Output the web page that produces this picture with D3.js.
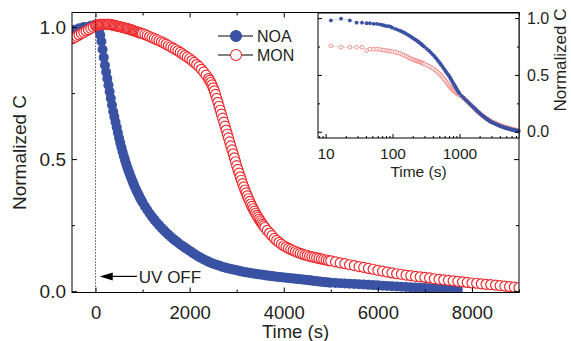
<!DOCTYPE html>
<html>
<head>
<meta charset="UTF-8" />
<title>Normalized C vs time</title>
<script src="https://cdn.jsdelivr.net/npm/d3@7/dist/d3.min.js"></script>
<style>
  body { margin: 0; background: #fff; }
  svg text { font-family: Arial, "Liberation Sans", sans-serif; fill: #231f20; }
</style>
</head>
<body>
<svg id="chart" width="571" height="341"></svg>
<script>
// main panel: time (s) after UV off
var noaTime = [-500,-450,-400,-350,-300,-250,-200,-150,-100,-50,0,
  25,50,75,100,125,150,175,200,225,250,275,300,325,350,375,400,425,450,475,500,
  525,550,575,600,625,650,675,700,725,750,775,800,825,850,875,900,925,950,975,1000,
  1050,1100,1150,1200,1250,1300,1350,1400,1450,1500,1550,1600,1650,1700,1750,1800,1850,1900,1950,2000,
  2050,2100,2150,2200,2250,2300,2350,2400,2450,2500,2550,2600,2650,2700,2750,2800,2850,2900,2950,3000,
  3050,3100,3150,3200,3250,3300,3350,3400,3450,3500,3550,3600,3650,3700,3750,3800,3850,3900,3950,4000,
  4050,4100,4150,4200,4250,4300,4350,4400,4450,4500,4550,4600,4650,4700,4750,4800,4850,4900,4950,5000,
  5100,5200,5300,5400,5500,5600,5700,5800,5900,6000,6100,6200,6300,6400,6500,6600,6700,6800,6900,7000,
  7100,7200,7300,7400,7500,7600,7700]

var noaMain = [0.98,0.99,0.985,0.995,0.99,1.0,0.995,1.0,1.005,1.0,1.01,
  1.005,1.0,0.99,0.97,0.945,0.915,0.885,0.855,0.83,0.805,0.78,0.755,0.73,0.705,0.68,0.66,0.64,0.62,0.6,0.58,
  0.562,0.545,0.528,0.512,0.497,0.483,0.469,0.456,0.444,0.432,0.421,0.41,0.399,0.389,0.379,0.37,0.361,0.352,0.344,0.336,
  0.321,0.307,0.294,0.282,0.271,0.26,0.25,0.24,0.231,0.222,0.214,0.206,0.198,0.191,0.184,0.177,0.171,0.165,0.159,0.153,
  0.147,0.141,0.135,0.13,0.125,0.12,0.116,0.112,0.108,0.104,0.101,0.098,0.095,0.092,0.09,0.087,0.085,0.083,0.081,0.079,
  0.077,0.075,0.073,0.072,0.07,0.069,0.067,0.066,0.064,0.063,0.062,0.06,0.059,0.058,0.057,0.056,0.055,0.054,0.053,0.052,
  0.051,0.05,0.049,0.048,0.047,0.046,0.045,0.044,0.043,0.042,0.041,0.04,0.039,0.038,0.037,0.036,0.035,0.034,0.033,0.032,
  0.031,0.03,0.029,0.028,0.027,0.026,0.025,0.024,0.023,0.022,0.021,0.02,0.019,0.018,0.017,0.016,0.015,0.014,0.013,0.012,
  0.011,0.01,0.009,0.008,0.007,0.006,0.005]

var monTime = [-500,-450,-400,-350,-300,-250,-200,-150,-100,-50,0,
  25,50,75,100,125,150,175,200,225,250,275,300,325,350,375,400,425,450,475,500,
  525,550,575,600,625,650,675,700,725,750,775,800,825,850,875,900,925,950,975,1000,
  1050,1100,1150,1200,1250,1300,1350,1400,1450,1500,1550,1600,1650,1700,1750,1800,1850,1900,1950,2000,
  2050,2100,2150,2200,2250,2300,2350,2400,
  2425,2450,2475,2500,2525,2550,2575,2600,2625,2650,2675,2700,2725,2750,2775,2800,2825,2850,2875,2900,
  2925,2950,2975,3000,3025,3050,3075,3100,3125,3150,3175,3200,3225,3250,3275,3300,3325,3350,3375,3400,
  3425,3450,3475,3500,3525,3550,3575,3600,
  3650,3700,3750,3800,3850,3900,3950,4000,4050,4100,4150,4200,4250,4300,4350,4400,4450,4500,4550,4600,
  4650,4700,4750,4800,4850,4900,4950,5000,
  5100,5200,5300,5400,5500,5600,5700,5800,5900,6000,6100,6200,6300,6400,6500,6600,6700,6800,6900,7000,
  7100,7200,7300,7400,7500,7600,7700,7800,7900,8000,8100,8200,8300,8400,8500,8600,8700,8800,8900,9000]

var monMain = [0.955,0.96,0.965,0.97,0.975,0.98,0.985,0.99,0.995,1.0,1.005,
  1.006,1.008,1.009,1.01,1.01,1.01,1.01,1.01,1.01,1.01,1.01,1.01,1.009,1.008,1.007,1.006,1.005,1.004,1.003,1.002,
  1.001,1.0,0.999,0.998,0.996,0.995,0.994,0.993,0.991,0.99,0.988,0.987,0.985,0.984,0.982,0.981,0.979,0.978,0.976,0.975,
  0.972,0.968,0.964,0.96,0.956,0.952,0.948,0.944,0.94,0.935,0.93,0.925,0.92,0.915,0.91,0.904,0.898,0.892,0.886,0.88,
  0.873,0.866,0.858,0.85,0.84,0.83,0.818,0.805,
  0.798,0.79,0.781,0.77,0.758,0.745,0.73,0.715,0.7,0.685,0.67,0.655,0.64,0.625,0.61,0.595,0.58,0.565,0.55,0.535,
  0.52,0.505,0.49,0.475,0.461,0.447,0.433,0.42,0.407,0.395,0.383,0.372,0.361,0.35,0.34,0.33,0.321,0.312,0.303,0.295,
  0.287,0.28,0.273,0.266,0.259,0.253,0.247,0.241,
  0.23,0.22,0.21,0.2,0.192,0.185,0.178,0.172,0.167,0.162,0.158,0.154,0.15,0.146,0.143,0.14,0.137,0.135,0.132,0.13,
  0.128,0.126,0.124,0.122,0.12,0.118,0.116,0.115,
  0.111,0.107,0.104,0.1,0.097,0.093,0.09,0.086,0.083,0.079,0.076,0.072,0.069,0.066,0.064,0.061,0.059,0.056,0.054,0.052,
  0.05,0.047,0.045,0.043,0.041,0.039,0.037,0.035,0.033,0.031,0.03,0.028,0.026,0.025,0.023,0.021,0.019,0.017,0.015,0.013]

// inset: log time
var insetTime = [12,17,23,29,35,41,46,52,58,64,70,75,81,87,93,99,
  110,120,130,140,150,160,170,180,190,200,210,220,230,240,250,260,270,280,290,300,
  325,350,375,400,425,450,475,500,525,550,575,600,625,650,675,700,725,750,775,800,825,850,875,900,925,950,975,1000,
  1080,1160,1240,1320,1400,1480,1560,1640,1720,1800,1880,1960,2040,2120,2200,2280,2360,2440,2520,2600,2680,2760,2840,2920,3000,
  3150,3300,3450,3600,3750,3900,4050,4200,4350,4500,4650,4800,4950,5100,5250,5400,5550,5700,5850,6000,
  6150,6300,6450,6600,6750,6900,7050,7200,7350,7500,7650]

var noaInset = [0.98,0.995,0.98,0.96,0.96,0.955,0.955,0.95,0.95,0.945,0.94,0.935,0.93,0.93,0.925,0.915,
  0.905,0.897,0.889,0.88,0.871,0.862,0.853,0.844,0.835,0.826,0.818,0.81,0.802,0.794,0.786,0.778,0.77,0.762,0.754,0.747,
  0.73,0.713,0.696,0.679,0.662,0.645,0.628,0.611,0.594,0.578,0.562,0.546,0.531,0.516,0.503,0.491,
  0.475,0.46,0.446,0.432,0.419,0.406,0.393,0.381,0.369,0.358,0.347,0.336,
  0.315,0.297,0.28,0.265,0.25,0.237,0.224,0.212,0.2,0.189,0.179,0.169,0.16,0.151,0.143,0.136,0.129,0.122,0.116,0.11,0.104,0.099,0.094,0.089,0.085,
  0.08,0.074,0.069,0.064,0.059,0.055,0.051,0.047,0.044,0.041,0.038,0.035,0.033,0.031,0.029,0.027,0.025,0.023,0.021,0.019,
  0.018,0.016,0.015,0.013,0.012,0.011,0.01,0.009,0.008,0.007,0.006]

var monInset = [0.756,0.744,0.744,0.744,0.744,0.714,0.727,0.727,0.727,0.725,0.72,0.718,0.714,0.712,0.71,0.706,
  0.7,0.695,0.688,0.679,0.672,0.665,0.658,0.648,0.642,0.636,0.631,0.627,0.623,0.62,0.617,0.613,0.608,0.604,0.6,0.596,
  0.586,0.577,0.567,0.557,0.546,0.535,0.523,0.511,0.498,0.485,0.471,0.457,0.443,0.43,0.417,0.405,
  0.394,0.384,0.375,0.366,0.36,0.354,0.347,0.34,0.336,0.332,0.328,0.324,
  0.31,0.295,0.28,0.265,0.25,0.236,0.222,0.209,0.196,0.184,0.174,0.165,0.156,0.148,0.141,0.134,0.128,0.122,0.117,0.112,0.107,0.102,0.097,0.093,0.089,
  0.084,0.079,0.074,0.069,0.064,0.06,0.056,0.052,0.049,0.046,0.043,0.04,0.037,0.035,0.033,0.031,0.029,0.027,0.025,0.023,
  0.021,0.02,0.018,0.017,0.015,0.014,0.013,0.012,0.011,0.01,0.009]

var xTickValues = [0, 2000, 4000, 6000, 8000]
var xMinorValues = [1000, 3000, 5000, 7000, 9000]
var yTickValues = [0, 0.5, 1.0]
var yMinorValues = [0.25, 0.75]
var insetXTicks = [10, 100, 1000]
var insetXMinor = [8, 9, 20, 30, 40, 50, 60, 70, 80, 90, 200, 300, 400, 500, 600, 700, 800, 900, 2000, 3000, 4000, 5000, 6000, 7000]
var insetYTicks = [0, 0.5, 1.0]
var insetYMinor = [0.25, 0.75]
var seriesNames = ["NOA", "MON"]
var noaColor = "#3a52a3"
var monColor = "#ee2a2e"

var svg = d3.select("#chart")

// ---------- main panel ----------
var mLeft = 72, mRight = 519, mTop = 12.5, mBottom = 292.5
var xScale = d3.scaleLinear().domain([-500, 9000]).range([mLeft, mRight])
var yScale = d3.scaleLinear().domain([-0.005, 1.055]).range([mBottom, mTop])

svg.append("clipPath").attr("id", "plotClip")
  .append("rect").attr("x", mLeft).attr("y", mTop).attr("width", mRight - mLeft).attr("height", mBottom - mTop)

var plot = svg.append("g").attr("clip-path", "url(#plotClip)")

plot.selectAll("circle.noa")
  .data(noaMain)
  .enter()
  .append("circle")
    .attr("class", "noa")
    .attr("cx", (d, i) => xScale(noaTime[i]))
    .attr("cy", d => yScale(d))
    .attr("r", 5)
    .style("fill", noaColor)

plot.selectAll("circle.mon")
  .data(monMain)
  .enter()
  .append("circle")
    .attr("class", "mon")
    .attr("cx", (d, i) => xScale(monTime[i]))
    .attr("cy", d => yScale(d))
    .attr("r", 5)
    .style("fill", "#fff")
    .style("stroke", monColor)
    .style("stroke-width", 1.2)

// dotted line at UV off
svg.append("line")
  .attr("x1", xScale(0)).attr("x2", xScale(0))
  .attr("y1", mTop).attr("y2", mBottom)
  .attr("stroke", "#000").attr("stroke-width", 1)
  .attr("stroke-dasharray", "1,2")

// axes with inward ticks
function tickAxis(axis, size, fmt) {
  return axis.tickSizeInner(-size).tickSizeOuter(0).tickFormat(fmt || "")
}

var gx = svg.append("g").attr("transform", "translate(0," + mBottom + ")")
  .call(tickAxis(d3.axisBottom(xScale).tickValues(xTickValues), 5, d3.format("d")))
gx.selectAll("text").attr("y", 26).attr("dy", 0).style("font-size", "18.5px")
svg.append("g").attr("transform", "translate(0," + mBottom + ")")
  .call(tickAxis(d3.axisBottom(xScale).tickValues(xMinorValues), 3))
svg.append("g").attr("transform", "translate(0," + mTop + ")")
  .call(tickAxis(d3.axisTop(xScale).tickValues(xTickValues), 5))
svg.append("g").attr("transform", "translate(0," + mTop + ")")
  .call(tickAxis(d3.axisTop(xScale).tickValues(xMinorValues), 3))

var gy = svg.append("g").attr("transform", "translate(" + mLeft + ",0)")
  .call(tickAxis(d3.axisLeft(yScale).tickValues(yTickValues), 5, d3.format(".1f")).tickPadding(6))
gy.selectAll("text").style("font-size", "19px")
svg.append("g").attr("transform", "translate(" + mLeft + ",0)")
  .call(tickAxis(d3.axisLeft(yScale).tickValues(yMinorValues), 3))
svg.append("g").attr("transform", "translate(" + mRight + ",0)")
  .call(tickAxis(d3.axisRight(yScale).tickValues(yTickValues), 5))
svg.append("g").attr("transform", "translate(" + mRight + ",0)")
  .call(tickAxis(d3.axisRight(yScale).tickValues(yMinorValues), 3))

svg.selectAll(".domain").remove()
svg.selectAll(".tick line").attr("stroke", "#000")

svg.append("rect")
  .attr("x", mLeft).attr("y", mTop)
  .attr("width", mRight - mLeft).attr("height", mBottom - mTop)
  .attr("fill", "none").attr("stroke", "#000").attr("stroke-width", 1)

svg.append("text")
  .attr("x", (mLeft + mRight) / 2).attr("y", 337.5)
  .attr("text-anchor", "middle")
  .style("font-size", "18.5px")
  .text("Time (s)")

svg.append("text")
  .attr("transform", "translate(25.5," + ((mTop + mBottom) / 2) + ") rotate(-90)")
  .attr("text-anchor", "middle")
  .style("font-size", "19px")
  .text("Normalized C")

// UV OFF arrow
var arrowY = yScale(0.056)
svg.append("line")
  .attr("x1", xScale(350)).attr("x2", xScale(880))
  .attr("y1", arrowY).attr("y2", arrowY)
  .attr("stroke", "#000").attr("stroke-width", 1.2)
svg.append("path")
  .attr("d", "M" + xScale(90) + "," + arrowY + " l13,-4 l0,8 z")
  .attr("fill", "#000")
svg.append("text")
  .attr("x", xScale(920)).attr("y", arrowY + 6.5)
  .style("font-size", "17px")
  .text("UV OFF")

// legend
var legend = svg.append("g")
seriesNames.forEach(function (name, i) {
  var ly = 36 + i * 19
  legend.append("line")
    .attr("x1", 218).attr("x2", 253).attr("y1", ly).attr("y2", ly)
    .attr("stroke", "#000").attr("stroke-width", 1)
  legend.append("circle")
    .attr("cx", 236).attr("cy", ly).attr("r", 5.5)
    .style("fill", i == 0 ? noaColor : "#fff")
    .style("stroke", i == 0 ? noaColor : monColor)
    .style("stroke-width", 1.1)
  legend.append("text")
    .attr("x", 257).attr("y", ly + 6)
    .style("font-size", "16px")
    .text(name)
})

// ---------- inset ----------
var iLeft = 318, iRight = 519, iTop = 13, iBottom = 138
var xInset = d3.scaleLog().domain([7.7, 7750]).range([iLeft, iRight])
var yInset = d3.scaleLinear().domain([-0.055, 1.045]).range([iBottom, iTop])

svg.append("rect")
  .attr("x", iLeft).attr("y", iTop)
  .attr("width", iRight - iLeft).attr("height", iBottom - iTop)
  .attr("fill", "#fff")

var insetLine = d3.line()
  .x((d, i) => xInset(insetTime[i]))
  .y(d => yInset(d))

svg.append("path")
  .attr("d", insetLine(monInset))
  .attr("fill", "none").attr("stroke", "#cccccc").attr("stroke-width", 0.8)
svg.append("path")
  .attr("d", insetLine(noaInset))
  .attr("fill", "none").attr("stroke", "#cccccc").attr("stroke-width", 0.8)

svg.selectAll("circle.monInset")
  .data(monInset)
  .enter()
  .append("circle")
    .attr("class", "monInset")
    .attr("cx", (d, i) => xInset(insetTime[i]))
    .attr("cy", d => yInset(d))
    .attr("r", 1.9)
    .style("fill", "#fff")
    .style("stroke", "#f07a7a")
    .style("stroke-width", 0.8)

svg.selectAll("circle.noaInset")
  .data(noaInset)
  .enter()
  .append("circle")
    .attr("class", "noaInset")
    .attr("cx", (d, i) => xInset(insetTime[i]))
    .attr("cy", d => yInset(d))
    .attr("r", 1.9)
    .style("fill", noaColor)

var inset = svg.append("g")
var gix = inset.append("g").attr("transform", "translate(0," + iBottom + ")")
  .call(tickAxis(d3.axisBottom(xInset).tickValues(insetXTicks), 4, d3.format("d")))
gix.selectAll("text").attr("y", 21).attr("dy", 0).style("font-size", "15.5px")
inset.append("g").attr("transform", "translate(0," + iBottom + ")")
  .call(tickAxis(d3.axisBottom(xInset).tickValues(insetXMinor), 2))
inset.append("g").attr("transform", "translate(" + iLeft + ",0)")
  .call(tickAxis(d3.axisLeft(yInset).tickValues(insetYTicks), 4))
inset.append("g").attr("transform", "translate(" + iLeft + ",0)")
  .call(tickAxis(d3.axisLeft(yInset).tickValues(insetYMinor), 2))
var giy = inset.append("g").attr("transform", "translate(" + iRight + ",0)")
  .call(tickAxis(d3.axisRight(yInset).tickValues(insetYTicks), 4, d3.format(".1f")).tickPadding(8))
giy.selectAll("text").style("font-size", "16px")
inset.append("g").attr("transform", "translate(" + iRight + ",0)")
  .call(tickAxis(d3.axisRight(yInset).tickValues(insetYMinor), 2))
inset.selectAll(".domain").remove()
inset.selectAll(".tick line").attr("stroke", "#000")

inset.append("rect")
  .attr("x", iLeft).attr("y", iTop)
  .attr("width", iRight - iLeft).attr("height", iBottom - iTop)
  .attr("fill", "none").attr("stroke", "#000").attr("stroke-width", 1)

inset.append("text")
  .attr("x", (iLeft + iRight) / 2).attr("y", 176.5)
  .attr("text-anchor", "middle")
  .style("font-size", "15.5px")
  .text("Time (s)")

inset.append("text")
  .attr("transform", "translate(566,60) rotate(-90)")
  .attr("text-anchor", "middle")
  .style("font-size", "17px")
  .text("Normalized C")
</script>
</body>
</html>
